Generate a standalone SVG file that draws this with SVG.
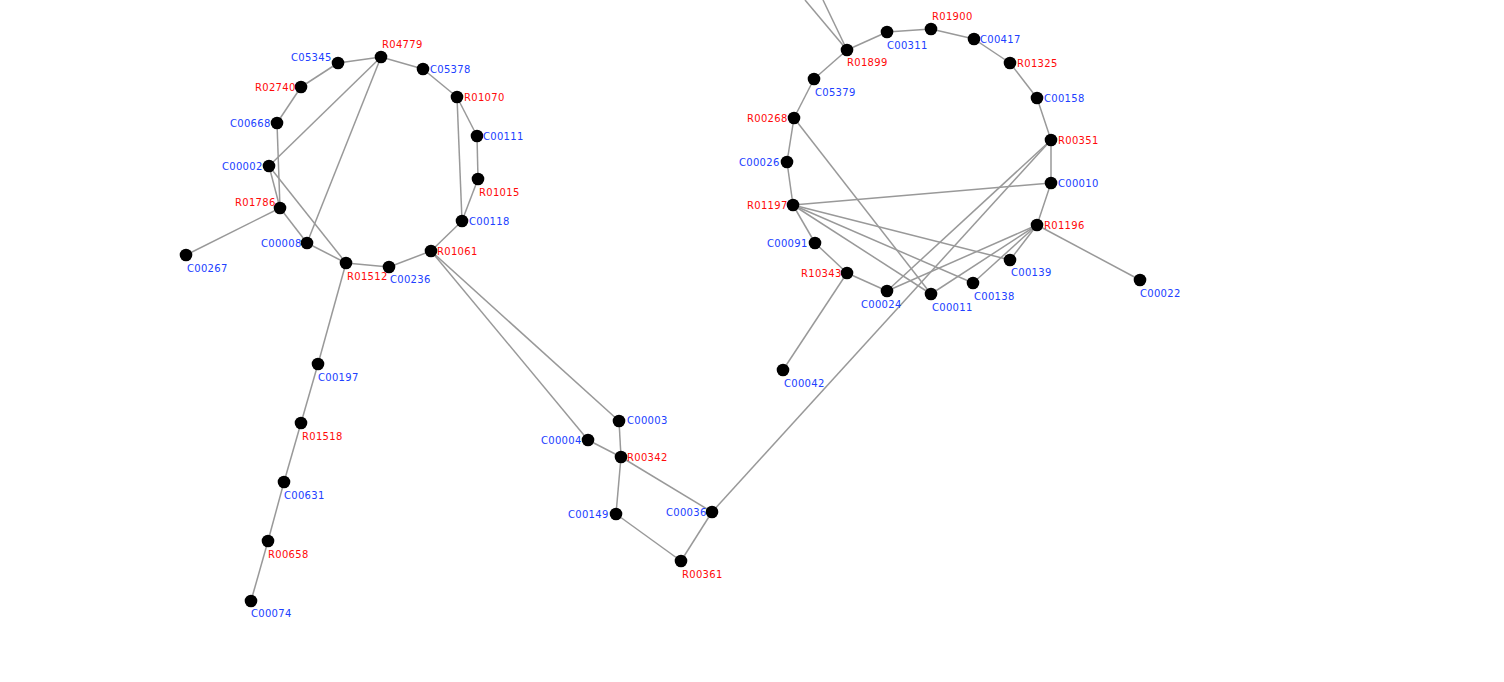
<svg xmlns="http://www.w3.org/2000/svg" width="1504" height="682" viewBox="0 0 1504 682">
<style>
.e{stroke:#999;stroke-width:1.5;fill:none}
.n{fill:#000}
text{font-family:"DejaVu Sans",Verdana,sans-serif;font-size:10px;letter-spacing:0.3px}
.c{fill:#2040ff}
.r{fill:#ff0a0a}
</style>
<rect width="1504" height="682" fill="#fff"/>
<g id="edges">
<line class="e" x1="338" y1="63" x2="381" y2="57"/>
<line class="e" x1="381" y1="57" x2="423" y2="69"/>
<line class="e" x1="338" y1="63" x2="301" y2="87"/>
<line class="e" x1="301" y1="87" x2="277" y2="123"/>
<line class="e" x1="277" y1="123" x2="280" y2="208"/>
<line class="e" x1="269" y1="166" x2="381" y2="57"/>
<line class="e" x1="381" y1="57" x2="307" y2="243"/>
<line class="e" x1="423" y1="69" x2="457" y2="97"/>
<line class="e" x1="457" y1="97" x2="477" y2="136"/>
<line class="e" x1="477" y1="136" x2="478" y2="179"/>
<line class="e" x1="478" y1="179" x2="462" y2="221"/>
<line class="e" x1="457" y1="97" x2="462" y2="221"/>
<line class="e" x1="462" y1="221" x2="431" y2="251"/>
<line class="e" x1="431" y1="251" x2="389" y2="267"/>
<line class="e" x1="389" y1="267" x2="346" y2="263"/>
<line class="e" x1="269" y1="166" x2="280" y2="208"/>
<line class="e" x1="269" y1="166" x2="346" y2="263"/>
<line class="e" x1="280" y1="208" x2="307" y2="243"/>
<line class="e" x1="280" y1="208" x2="186" y2="255"/>
<line class="e" x1="307" y1="243" x2="346" y2="263"/>
<line class="e" x1="346" y1="263" x2="318" y2="364"/>
<line class="e" x1="318" y1="364" x2="301" y2="423"/>
<line class="e" x1="301" y1="423" x2="284" y2="482"/>
<line class="e" x1="284" y1="482" x2="268" y2="541"/>
<line class="e" x1="268" y1="541" x2="251" y2="601"/>
<line class="e" x1="431" y1="251" x2="619" y2="421"/>
<line class="e" x1="431" y1="251" x2="588" y2="440"/>
<line class="e" x1="619" y1="421" x2="621" y2="457"/>
<line class="e" x1="588" y1="440" x2="621" y2="457"/>
<line class="e" x1="621" y1="457" x2="616" y2="514"/>
<line class="e" x1="621" y1="457" x2="712" y2="512"/>
<line class="e" x1="616" y1="514" x2="681" y2="561"/>
<line class="e" x1="681" y1="561" x2="712" y2="512"/>
<line class="e" x1="712" y1="512" x2="1051" y2="140"/>
<line class="e" x1="805" y1="0" x2="847" y2="50"/>
<line class="e" x1="823" y1="0" x2="847" y2="50"/>
<line class="e" x1="847" y1="50" x2="887" y2="32"/>
<line class="e" x1="887" y1="32" x2="931" y2="29"/>
<line class="e" x1="931" y1="29" x2="974" y2="39"/>
<line class="e" x1="974" y1="39" x2="1010" y2="63"/>
<line class="e" x1="1010" y1="63" x2="1037" y2="98"/>
<line class="e" x1="1037" y1="98" x2="1051" y2="140"/>
<line class="e" x1="1051" y1="140" x2="1051" y2="183"/>
<line class="e" x1="1051" y1="183" x2="1037" y2="225"/>
<line class="e" x1="1037" y1="225" x2="1140" y2="280"/>
<line class="e" x1="847" y1="50" x2="814" y2="79"/>
<line class="e" x1="814" y1="79" x2="794" y2="118"/>
<line class="e" x1="794" y1="118" x2="787" y2="162"/>
<line class="e" x1="787" y1="162" x2="793" y2="205"/>
<line class="e" x1="793" y1="205" x2="815" y2="243"/>
<line class="e" x1="815" y1="243" x2="847" y2="273"/>
<line class="e" x1="847" y1="273" x2="887" y2="291"/>
<line class="e" x1="847" y1="273" x2="783" y2="370"/>
<line class="e" x1="794" y1="118" x2="931" y2="294"/>
<line class="e" x1="793" y1="205" x2="1051" y2="183"/>
<line class="e" x1="793" y1="205" x2="1010" y2="260"/>
<line class="e" x1="793" y1="205" x2="973" y2="283"/>
<line class="e" x1="793" y1="205" x2="931" y2="294"/>
<line class="e" x1="1051" y1="140" x2="887" y2="291"/>
<line class="e" x1="1037" y1="225" x2="887" y2="291"/>
<line class="e" x1="1037" y1="225" x2="931" y2="294"/>
<line class="e" x1="1037" y1="225" x2="973" y2="283"/>
<line class="e" x1="1037" y1="225" x2="1010" y2="260"/>
</g>
<g id="R04779"><circle class="n" cx="381" cy="57" r="6.3"/><text class="r" x="382" y="48">R04779</text></g>
<g id="C05345"><circle class="n" cx="338" cy="63" r="6.3"/><text class="c" x="291" y="61">C05345</text></g>
<g id="C05378"><circle class="n" cx="423" cy="69" r="6.3"/><text class="c" x="430" y="73">C05378</text></g>
<g id="R02740"><circle class="n" cx="301" cy="87" r="6.3"/><text class="r" x="255" y="91">R02740</text></g>
<g id="R01070"><circle class="n" cx="457" cy="97" r="6.3"/><text class="r" x="464" y="101">R01070</text></g>
<g id="C00668"><circle class="n" cx="277" cy="123" r="6.3"/><text class="c" x="230" y="127">C00668</text></g>
<g id="C00111"><circle class="n" cx="477" cy="136" r="6.3"/><text class="c" x="483" y="140">C00111</text></g>
<g id="C00002"><circle class="n" cx="269" cy="166" r="6.3"/><text class="c" x="222" y="170">C00002</text></g>
<g id="R01015"><circle class="n" cx="478" cy="179" r="6.3"/><text class="r" x="479" y="196">R01015</text></g>
<g id="R01786"><circle class="n" cx="280" cy="208" r="6.3"/><text class="r" x="235" y="206">R01786</text></g>
<g id="C00118"><circle class="n" cx="462" cy="221" r="6.3"/><text class="c" x="469" y="225">C00118</text></g>
<g id="C00008"><circle class="n" cx="307" cy="243" r="6.3"/><text class="c" x="261" y="247">C00008</text></g>
<g id="R01061"><circle class="n" cx="431" cy="251" r="6.3"/><text class="r" x="437" y="255">R01061</text></g>
<g id="C00267"><circle class="n" cx="186" cy="255" r="6.3"/><text class="c" x="187" y="272">C00267</text></g>
<g id="R01512"><circle class="n" cx="346" cy="263" r="6.3"/><text class="r" x="347" y="280">R01512</text></g>
<g id="C00236"><circle class="n" cx="389" cy="267" r="6.3"/><text class="c" x="390" y="283">C00236</text></g>
<g id="C00197"><circle class="n" cx="318" cy="364" r="6.3"/><text class="c" x="318" y="381">C00197</text></g>
<g id="R01518"><circle class="n" cx="301" cy="423" r="6.3"/><text class="r" x="302" y="440">R01518</text></g>
<g id="C00631"><circle class="n" cx="284" cy="482" r="6.3"/><text class="c" x="284" y="499">C00631</text></g>
<g id="R00658"><circle class="n" cx="268" cy="541" r="6.3"/><text class="r" x="268" y="558">R00658</text></g>
<g id="C00074"><circle class="n" cx="251" cy="601" r="6.3"/><text class="c" x="251" y="617">C00074</text></g>
<g id="C00003"><circle class="n" cx="619" cy="421" r="6.3"/><text class="c" x="627" y="424">C00003</text></g>
<g id="C00004"><circle class="n" cx="588" cy="440" r="6.3"/><text class="c" x="541" y="444">C00004</text></g>
<g id="R00342"><circle class="n" cx="621" cy="457" r="6.3"/><text class="r" x="627" y="461">R00342</text></g>
<g id="C00149"><circle class="n" cx="616" cy="514" r="6.3"/><text class="c" x="568" y="518">C00149</text></g>
<g id="C00036"><circle class="n" cx="712" cy="512" r="6.3"/><text class="c" x="666" y="516">C00036</text></g>
<g id="R00361"><circle class="n" cx="681" cy="561" r="6.3"/><text class="r" x="682" y="578">R00361</text></g>
<g id="R01899"><circle class="n" cx="847" cy="50" r="6.3"/><text class="r" x="847" y="66">R01899</text></g>
<g id="C00311"><circle class="n" cx="887" cy="32" r="6.3"/><text class="c" x="887" y="49">C00311</text></g>
<g id="R01900"><circle class="n" cx="931" cy="29" r="6.3"/><text class="r" x="932" y="20">R01900</text></g>
<g id="C00417"><circle class="n" cx="974" cy="39" r="6.3"/><text class="c" x="980" y="43">C00417</text></g>
<g id="R01325"><circle class="n" cx="1010" cy="63" r="6.3"/><text class="r" x="1017" y="67">R01325</text></g>
<g id="C00158"><circle class="n" cx="1037" cy="98" r="6.3"/><text class="c" x="1044" y="102">C00158</text></g>
<g id="R00351"><circle class="n" cx="1051" cy="140" r="6.3"/><text class="r" x="1058" y="144">R00351</text></g>
<g id="C00010"><circle class="n" cx="1051" cy="183" r="6.3"/><text class="c" x="1058" y="187">C00010</text></g>
<g id="R01196"><circle class="n" cx="1037" cy="225" r="6.3"/><text class="r" x="1044" y="229">R01196</text></g>
<g id="C00022"><circle class="n" cx="1140" cy="280" r="6.3"/><text class="c" x="1140" y="297">C00022</text></g>
<g id="C05379"><circle class="n" cx="814" cy="79" r="6.3"/><text class="c" x="815" y="96">C05379</text></g>
<g id="R00268"><circle class="n" cx="794" cy="118" r="6.3"/><text class="r" x="747" y="122">R00268</text></g>
<g id="C00026"><circle class="n" cx="787" cy="162" r="6.3"/><text class="c" x="739" y="166">C00026</text></g>
<g id="R01197"><circle class="n" cx="793" cy="205" r="6.3"/><text class="r" x="747" y="209">R01197</text></g>
<g id="C00091"><circle class="n" cx="815" cy="243" r="6.3"/><text class="c" x="767" y="247">C00091</text></g>
<g id="R10343"><circle class="n" cx="847" cy="273" r="6.3"/><text class="r" x="801" y="277">R10343</text></g>
<g id="C00024"><circle class="n" cx="887" cy="291" r="6.3"/><text class="c" x="861" y="308">C00024</text></g>
<g id="C00011"><circle class="n" cx="931" cy="294" r="6.3"/><text class="c" x="932" y="311">C00011</text></g>
<g id="C00138"><circle class="n" cx="973" cy="283" r="6.3"/><text class="c" x="974" y="300">C00138</text></g>
<g id="C00139"><circle class="n" cx="1010" cy="260" r="6.3"/><text class="c" x="1011" y="276">C00139</text></g>
<g id="C00042"><circle class="n" cx="783" cy="370" r="6.3"/><text class="c" x="784" y="387">C00042</text></g>
</svg>
